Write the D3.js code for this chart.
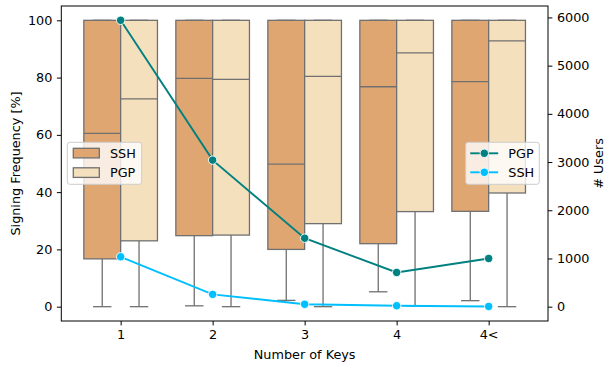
<!DOCTYPE html>
<html>
<head>
<meta charset="utf-8">
<script src="https://cdn.jsdelivr.net/npm/d3@7"></script>
<style>
  body { margin: 0; background: #fff; }
  svg text { font-family: "DejaVu Sans", sans-serif; font-size: 12.8px; fill: #000; }
</style>
</head>
<body>
<svg id="chart" width="606" height="367"></svg>
<script>
// categories on the x axis
const categories = ["1", "2", "3", "4", "4<"];

// SSH box stats (signing frequency, %)
const sshLow = [0, 0.3, 2.2, 5.2, 2.1];
const sshQ1 = [16.7, 24.8, 20, 22, 33.3];
const sshMed = [60.5, 79.7, 49.8, 76.8, 78.6];
const sshQ3 = [100, 100, 100, 100, 100];
const sshHigh = [100, 100, 100, 100, 100];

// PGP box stats
const pgpLow = [0, 0, 0, 0.3, 0];
const pgpQ1 = [23, 25, 29, 33.2, 39.7];
const pgpMed = [72.6, 79.4, 80.4, 88.6, 92.8];
const pgpQ3 = [100, 100, 100, 100, 100];
const pgpHigh = [100, 100, 100, 100, 100];

// number of users (right axis)
const pgpUsers = [5940, 3040, 1420, 710, 1000];
const sshUsers = [1035, 255, 50, 20, 5];

const leftTicks = [0, 20, 40, 60, 80, 100];
const rightTicks = [0, 1000, 2000, 3000, 4000, 5000, 6000];

const sshFill = "#e0a672", pgpFill = "#f5e0bd", boxLine = "#707070";
const pgpLine = "#008080", sshLine = "#00bfff";

const svg = d3.select("#chart");
const pLeft = 61.3, pRight = 548, pTop = 6, pBottom = 321;

const x = d3.scaleLinear().domain([-0.645, 4.645]).range([pLeft, pRight]);
const y = d3.scaleLinear().domain([-5, 105]).range([pBottom, pTop]);
const uMax = d3.max(pgpUsers.concat(sshUsers)), uMin = 0;
const pad = (uMax - uMin) * 0.05;
const y2 = d3.scaleLinear().domain([uMin - pad, uMax + pad]).range([pBottom, pTop]);

const boxW = 0.4; // in category units

function drawBoxes(low, q1, med, q3, high, fill, offset) {
  const g = svg.append("g");
  categories.forEach((c, i) => {
    const cx = i + offset;
    const x0 = x(cx - boxW / 2), x1 = x(cx + boxW / 2);
    const xc = x(cx);
    const capHalf = (x1 - x0) / 4;
    // whiskers
    g.append("line").attr("x1", xc).attr("x2", xc).attr("y1", y(q1[i])).attr("y2", y(low[i]))
      .attr("stroke", boxLine).attr("stroke-width", 1.3);
    g.append("line").attr("x1", xc).attr("x2", xc).attr("y1", y(q3[i])).attr("y2", y(high[i]))
      .attr("stroke", boxLine).attr("stroke-width", 1.3);
    g.append("line").attr("x1", xc - capHalf).attr("x2", xc + capHalf).attr("y1", y(low[i])).attr("y2", y(low[i]))
      .attr("stroke", boxLine).attr("stroke-width", 1.3);
    g.append("line").attr("x1", xc - capHalf).attr("x2", xc + capHalf).attr("y1", y(high[i])).attr("y2", y(high[i]))
      .attr("stroke", boxLine).attr("stroke-width", 1.3);
    g.append("rect").attr("x", x0).attr("y", y(q3[i])).attr("width", x1 - x0)
      .attr("height", y(q1[i]) - y(q3[i])).attr("fill", fill).attr("stroke", boxLine).attr("stroke-width", 1.3);
    g.append("line").attr("x1", x0).attr("x2", x1).attr("y1", y(med[i])).attr("y2", y(med[i]))
      .attr("stroke", boxLine).attr("stroke-width", 1.3);
  });
}

drawBoxes(sshLow, sshQ1, sshMed, sshQ3, sshHigh, sshFill, -0.2);
drawBoxes(pgpLow, pgpQ1, pgpMed, pgpQ3, pgpHigh, pgpFill, 0.2);

// left legend (box hues)
const lg = svg.append("g").attr("transform", "translate(67.3,142.3)");
lg.append("rect").attr("width", 74.4).attr("height", 42).attr("rx", 2.5)
  .attr("fill", "#fff").attr("fill-opacity", 0.8).attr("stroke", "#cccccc").attr("stroke-width", 1);
[["SSH", sshFill], ["PGP", pgpFill]].forEach((d, i) => {
  lg.append("rect").attr("x", 6).attr("y", 6 + i * 19.5).attr("width", 26).attr("height", 9.6)
    .attr("fill", d[1]).attr("stroke", boxLine).attr("stroke-width", 1.3);
  lg.append("text").attr("x", 42.7).attr("y", 15.3 + i * 19.5).text(d[0]);
});

// user lines
const line = d3.line().x((d, i) => x(i)).y(d => y2(d));
[[pgpUsers, pgpLine], [sshUsers, sshLine]].forEach(([vals, col]) => {
  svg.append("path").attr("d", line(vals)).attr("fill", "none").attr("stroke", col).attr("stroke-width", 1.9);
  svg.append("g").selectAll("circle").data(vals).join("circle")
    .attr("cx", (d, i) => x(i)).attr("cy", d => y2(d)).attr("r", 4.2)
    .attr("fill", col).attr("stroke", "#fff").attr("stroke-width", 0.9);
});

// right legend (lines)
const rg = svg.append("g").attr("transform", "translate(465.7,142.3)");
rg.append("rect").attr("width", 73.6).attr("height", 42).attr("rx", 2.5)
  .attr("fill", "#fff").attr("fill-opacity", 0.8).attr("stroke", "#cccccc").attr("stroke-width", 1);
[["PGP", pgpLine], ["SSH", sshLine]].forEach((d, i) => {
  const yy = 11 + i * 19;
  rg.append("line").attr("x1", 4.5).attr("x2", 32.5).attr("y1", yy).attr("y2", yy)
    .attr("stroke", d[1]).attr("stroke-width", 1.9);
  rg.append("circle").attr("cx", 18.6).attr("cy", yy).attr("r", 4.2)
    .attr("fill", d[1]).attr("stroke", "#fff").attr("stroke-width", 0.9);
  rg.append("text").attr("x", 42.6).attr("y", yy + 4.6).text(d[0]);
});

// frame
svg.append("rect").attr("x", pLeft).attr("y", pTop).attr("width", pRight - pLeft).attr("height", pBottom - pTop)
  .attr("fill", "none").attr("stroke", "#000").attr("stroke-width", 1);

// axes
const xAxis = d3.axisBottom(x).tickValues(d3.range(categories.length)).tickFormat(i => categories[i])
  .tickSize(4.4).tickPadding(4.5);
const gx = svg.append("g").attr("transform", `translate(0,${pBottom})`).call(xAxis);
const yAxis = d3.axisLeft(y).tickValues(leftTicks).tickSize(4.4).tickPadding(4.5);
const gy = svg.append("g").attr("transform", `translate(${pLeft},0)`).call(yAxis);
const y2Axis = d3.axisRight(y2).tickValues(rightTicks).tickFormat(d3.format("d")).tickSize(4.4).tickPadding(4.5);
const gy2 = svg.append("g").attr("transform", `translate(${pRight},0)`).call(y2Axis);
[gx, gy, gy2].forEach(g => {
  g.select(".domain").remove();
  g.selectAll(".tick line").attr("stroke", "#000");
  g.selectAll("text").attr("font-size", null).attr("font-family", null);
});
gx.selectAll("text").attr("dy", "0.71em");

svg.append("text").attr("x", (pLeft + pRight) / 2).attr("y", 359).attr("text-anchor", "middle").text("Number of Keys");
svg.append("text").attr("transform", `translate(19.5,${(pTop + pBottom) / 2}) rotate(-90)`)
  .attr("text-anchor", "middle").text("Signing Frequency [%]");
svg.append("text").attr("transform", `translate(602.5,${(pTop + pBottom) / 2}) rotate(-90)`)
  .attr("text-anchor", "middle").text("# Users");
</script>
</body>
</html>
